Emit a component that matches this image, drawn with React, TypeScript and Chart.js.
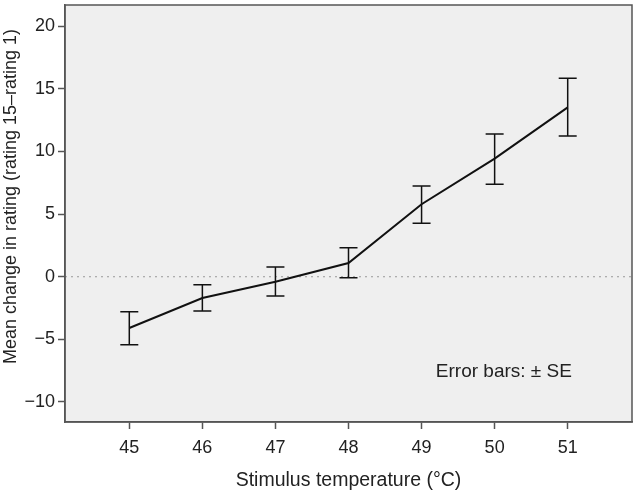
import React, { useEffect, useRef } from "react";
import { Chart, registerables } from "chart.js";

Chart.register(...registerables);

const temperatures = [45, 46, 47, 48, 49, 50, 51];
const meanChange = [-4.09, -1.7, -0.4, 1.09, 5.79, 9.43, 13.52];
const seUpper = [-2.79, -0.64, 0.77, 2.31, 7.25, 11.39, 15.86];
const seLower = [-5.44, -2.73, -1.54, -0.08, 4.28, 7.39, 11.24];
const xTicks = [45, 46, 47, 48, 49, 50, 51];
const yTicks = [-10, -5, 0, 5, 10, 15, 20];
const annotationText = "Error bars: \u00b1 SE";
const xTitle = "Stimulus temperature (\u00b0C)";
const yTitle = "Mean change in rating (rating 15\u2013rating 1)";

const FONT = "'Liberation Sans', Arial, sans-serif";
const AXIS_COLOR = "#555555";
const TEXT_COLOR = "#222222";

const decorPlugin = {
  id: "decor",
  beforeDraw(chart: any) {
    const { ctx, chartArea } = chart;
    ctx.save();
    ctx.fillStyle = "#efefef";
    ctx.fillRect(chartArea.left, chartArea.top, chartArea.right - chartArea.left, chartArea.bottom - chartArea.top);
    const y0 = chart.scales.y.getPixelForValue(0);
    ctx.strokeStyle = "#999999";
    ctx.lineWidth = 1;
    ctx.setLineDash([2, 4]);
    ctx.beginPath();
    ctx.moveTo(chartArea.left, y0);
    ctx.lineTo(chartArea.right, y0);
    ctx.stroke();
    ctx.restore();
  },
  afterDatasetsDraw(chart: any) {
    const { ctx, chartArea } = chart;
    const xs = chart.scales.x;
    const ys = chart.scales.y;
    ctx.save();
    ctx.strokeStyle = "#111111";
    ctx.lineWidth = 1.5;
    const cap = 9;
    temperatures.forEach((t, i) => {
      const px = xs.getPixelForValue(t);
      const top = ys.getPixelForValue(seUpper[i]);
      const bot = ys.getPixelForValue(seLower[i]);
      ctx.beginPath();
      ctx.moveTo(px, top);
      ctx.lineTo(px, bot);
      ctx.moveTo(px - cap, top);
      ctx.lineTo(px + cap, top);
      ctx.moveTo(px - cap, bot);
      ctx.lineTo(px + cap, bot);
      ctx.stroke();
    });
    ctx.strokeStyle = AXIS_COLOR;
    ctx.lineWidth = 1.5;
    ctx.strokeRect(chartArea.left, chartArea.top, chartArea.right - chartArea.left, chartArea.bottom - chartArea.top);
    ctx.fillStyle = TEXT_COLOR;
    ctx.font = `19px ${FONT}`;
    ctx.textAlign = "center";
    ctx.textBaseline = "middle";
    ctx.fillText(annotationText, chartArea.left + (chartArea.right - chartArea.left) * 0.774, chartArea.bottom - 50);
    // y axis title
    ctx.save();
    ctx.translate(11, (chartArea.top + chartArea.bottom) / 2 - 17);
    ctx.rotate(-Math.PI / 2);
    ctx.font = `18px ${FONT}`;
    ctx.fillText(yTitle, 0, 0);
    ctx.restore();
    ctx.restore();
  },
};

export default function App() {
  const canvasRef = useRef<HTMLCanvasElement | null>(null);

  useEffect(() => {
    document.body.style.margin = "0";
    const canvas = canvasRef.current;
    if (!canvas) return;
    const chart = new Chart(canvas, {
      type: "line",
      data: {
        datasets: [
          {
            data: temperatures.map((t, i) => ({ x: t, y: meanChange[i] })),
            borderColor: "#111111",
            borderWidth: 2,
            pointRadius: 0,
            tension: 0,
            fill: false,
          },
        ],
      },
      options: {
        responsive: false,
        animation: false,
        layout: { padding: { top: 5, right: 8, left: 0, bottom: 0 } },
        plugins: {
          legend: { display: false },
          tooltip: { enabled: false },
        },
        scales: {
          x: {
            type: "linear",
            min: 44.12,
            max: 51.88,
            afterBuildTicks: (scale: any) => {
              scale.ticks = xTicks.map((v) => ({ value: v }));
            },
            afterFit: (scale: any) => {
              scale.height = 70;
              scale.paddingLeft = 0;
              scale.paddingRight = 0;
            },
            grid: {
              drawOnChartArea: false,
              drawTicks: true,
              tickLength: 7,
              tickWidth: 1.5,
              color: AXIS_COLOR,
            },
            border: { display: true, color: AXIS_COLOR, width: 1.5 },
            ticks: {
              color: TEXT_COLOR,
              font: { family: FONT, size: 18 },
              padding: 8,
              maxRotation: 0,
              callback: (v: any) => String(v),
            },
            title: {
              display: true,
              text: xTitle,
              color: TEXT_COLOR,
              font: { family: FONT, size: 19.5 },
              padding: { top: 10, bottom: 0 },
            },
          },
          y: {
            type: "linear",
            min: -11.6,
            max: 21.7,
            afterBuildTicks: (scale: any) => {
              scale.ticks = yTicks.map((v) => ({ value: v }));
            },
            afterFit: (scale: any) => {
              scale.width = 65;
              scale.paddingTop = 0;
              scale.paddingBottom = 0;
            },
            grid: {
              drawOnChartArea: false,
              drawTicks: true,
              tickLength: 7,
              tickWidth: 1.5,
              color: AXIS_COLOR,
            },
            border: { display: true, color: AXIS_COLOR, width: 1.5 },
            ticks: {
              color: TEXT_COLOR,
              font: { family: FONT, size: 18 },
              padding: 3,
              callback: (v: any) => (v < 0 ? "\u2212" + Math.abs(v) : String(v)),
            },
            title: { display: false },
          },
        },
      },
      plugins: [decorPlugin],
    });
    return () => chart.destroy();
  }, []);

  return (
    <div style={{ position: "absolute", left: 0, top: 0, width: 640, height: 492, background: "#fff" }}>
      <canvas ref={canvasRef} width={640} height={492} style={{ width: 640, height: 492 }} />
    </div>
  );
}
